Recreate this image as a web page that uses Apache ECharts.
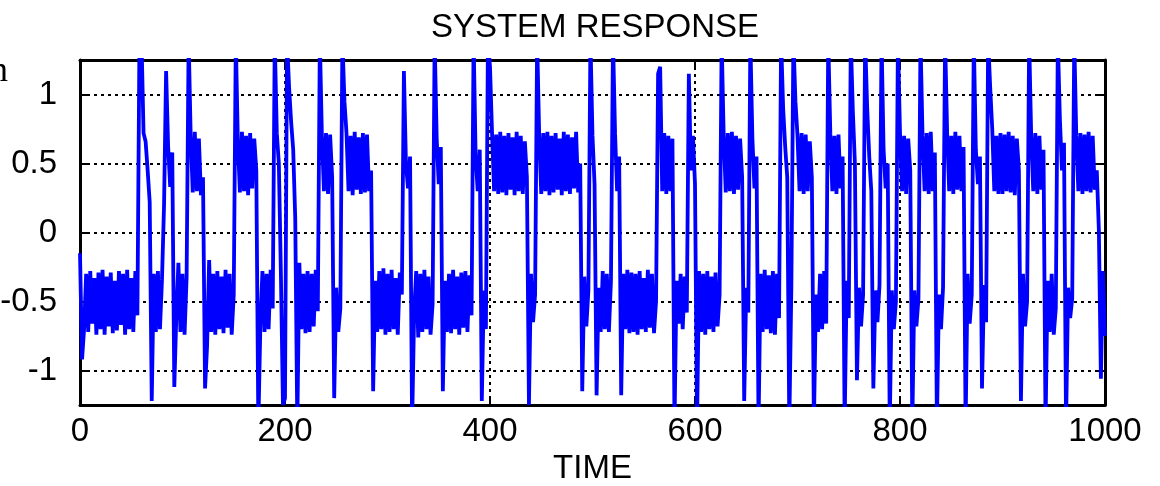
<!DOCTYPE html>
<html>
<head>
<meta charset="utf-8">
<title>System response</title>
<script src="https://cdn.jsdelivr.net/npm/echarts@6/dist/echarts.min.js"></script>
<style>
    html, body { margin: 0; padding: 0; background: #fff; }
    #chart { width: 1160px; height: 486px; }
</style>
</head>
<body>
<!-- system response chart container -->
<div id="chart"></div>
<script>
// samples are taken every 2 time units, 0..1000
const timeStep = 2
const xTicks = [0, 200, 400, 600, 800, 1000]
const yTicks = [-1, -0.5, 0, 0.5, 1]

// response, t = 0..198
const resp0 = [
    -0.15, -0.92, -0.70, -0.30, -0.72, -0.28, -0.66, -0.33, -0.74, -0.29,
    -0.70, -0.27, -0.74, -0.32, -0.68, -0.29, -0.73, -0.35, -0.71, -0.28,
    -0.67, -0.30, -0.74, -0.27, -0.70, -0.33, -0.72, -0.28, -0.60, 1.40,
    1.40, 0.72, 0.66, 0.45, 0.22, -1.22, -0.30, -0.72, -0.28, -0.70,
    -0.34, 0.20, 1.17, 0.62, 0.33, 0.58, -1.12, -0.60, -0.22, -0.72,
    -0.30, -0.74, -0.33, 1.40, 0.70, 0.29, 0.73, 0.30, 0.68, 0.27,
    0.40, -1.13, -0.82, -0.20, -0.72, -0.30, -0.74, -0.28, -0.70, -0.32,
    -0.73, -0.27, -0.69, -0.30, -0.74, -0.45, 1.40, 0.66, 0.29, 0.73,
    0.30, 0.70, 0.27, 0.72, 0.32, 0.68, 0.45, -1.40, -0.66, -0.28,
    -0.72, -0.30, -0.70, -0.27, -0.55, 1.40, 0.72, 0.50, -0.30, -1.25
]
// t = 200..398
const resp1 = [
    -1.20, 1.40, 1.05, 0.80, 0.60, 0.10, -1.40, -0.22, -0.70, -0.30,
    -0.73, -0.28, -0.72, -0.30, -0.68, -0.27, -0.57, 1.40, 0.70, 0.30,
    0.72, 0.28, 0.71, 0.40, -1.20, -0.40, -0.72, -0.55, 1.40, 0.95,
    0.72, 0.30, 0.70, 0.27, 0.73, 0.31, 0.69, 0.28, 0.72, 0.29,
    0.71, 0.30, 0.45, -1.15, -0.35, -0.72, -0.28, -0.70, -0.26, -0.74,
    -0.30, -0.72, -0.27, -0.70, -0.33, -0.74, -0.29, -0.45, 1.17, 0.50,
    0.32, 0.55, -1.40, -0.58, -0.28, -0.76, -0.30, -0.72, -0.27, -0.70,
    -0.32, -0.74, -0.52, 1.40, 0.68, 0.35, 0.62, -1.15, -0.35, -0.72,
    -0.30, -0.73, -0.27, -0.70, -0.32, -0.74, -0.29, -0.69, -0.28, -0.72,
    -0.31, -0.60, 1.40, 0.55, 0.30, 0.60, -1.22, -0.42, -0.70, 1.40
]
// t = 400..598
const resp2 = [
    1.20, 0.72, 0.30, 0.71, 0.28, 0.73, 0.29, 0.70, 0.27, 0.72,
    0.31, 0.69, 0.27, 0.73, 0.30, 0.70, 0.28, 0.66, 0.40, -1.25,
    -0.30, -0.65, -0.45, 1.40, 0.70, 0.28, 0.72, 0.30, 0.73, 0.27,
    0.70, 0.29, 0.72, 0.31, 0.68, 0.27, 0.73, 0.30, 0.71, 0.28,
    0.69, 0.32, 0.73, 0.29, 0.50, -1.15, -0.32, -0.68, -0.42, 1.40,
    0.70, 0.35, -1.18, -0.40, -0.72, -0.28, -0.70, -0.30, -0.72, -0.35,
    1.40, 0.72, 0.30, 0.55, -1.18, -0.30, -0.70, -0.27, -0.73, -0.29,
    -0.72, -0.30, -0.74, -0.28, -0.70, -0.33, -0.72, -0.27, -0.69, -0.30,
    -0.73, -0.50, 1.15, 1.20, 0.30, 0.72, 0.28, 0.70, 0.30, 0.68,
    -1.40, -0.35, -0.66, -0.30, -0.70, -0.32, -0.58, 1.15, 0.45, 0.70
]
// t = 600..798
const resp3 = [
    0.35, -1.40, -0.28, -0.72, -0.30, -0.74, -0.28, -0.70, -0.32, -0.72,
    -0.29, -0.68, -0.45, 1.40, 0.70, 0.29, 0.72, 0.30, 0.73, 0.28,
    0.70, 0.31, 0.68, 0.40, -1.22, -0.40, -0.58, 1.40, 0.68, 0.32,
    0.55, -1.40, -0.30, -0.72, -0.27, -0.70, -0.31, -0.73, -0.28, -0.74,
    -0.30, -0.62, 1.40, 0.90, 0.62, 0.40, -1.40, -0.40, 1.40, 0.95,
    0.70, 0.30, 0.72, 0.28, 0.71, 0.30, 0.66, 0.40, -1.40, -0.45,
    -0.72, -0.30, -0.70, -0.28, -0.66, 1.40, 0.72, 0.30, 0.70, 0.28,
    0.71, 0.32, 0.55, -1.40, -0.35, -0.62, 1.40, 0.88, 0.50, -1.07,
    -0.40, -0.68, -0.45, 1.40, 0.90, 0.55, 0.30, -1.13, -0.42, -0.65,
    -0.38, 1.40, 0.60, 0.32, 0.50, -1.40, -0.42, -0.70, -0.50, 1.40
]
// t = 800..998
const resp4 = [
    0.72, 0.30, 0.70, 0.28, 0.68, 0.45, -1.40, -0.42, -0.68, -0.48,
    1.40, 0.70, 0.30, 0.72, 0.28, 0.73, 0.30, 0.58, -1.40, -0.45,
    -0.70, -0.40, 1.40, 0.72, 0.30, 0.70, 0.28, 0.73, 0.31, 0.70,
    0.30, 0.62, -1.40, -0.30, -0.66, -0.45, 1.40, 0.60, 0.35, 0.55,
    -1.13, -0.38, -0.65, 1.40, 1.05, 0.75, 0.30, 0.70, 0.28, 0.72,
    0.28, 0.71, 0.30, 0.73, 0.29, 0.70, 0.27, 0.68, 0.45, -1.22,
    -0.30, -0.68, -0.50, 1.40, 0.70, 0.30, 0.72, 0.28, 0.70, 0.31,
    0.60, -1.40, -0.35, -0.72, -0.30, -0.74, -0.55, 1.40, 0.82, 0.45,
    0.65, -1.40, -0.40, -0.62, -0.48, 1.40, 0.70, 0.30, 0.72, 0.28,
    0.71, 0.30, 0.73, 0.29, 0.70, 0.31, 0.45, 0.02, -1.06, -0.28
]
// value at t = 1000
const respEnd = -0.75

// join the pieces into [time, value] pairs
const segments = [resp0, resp1, resp2, resp3, resp4]
const points = []
segments.forEach((seg, s) => {
    seg.forEach((v, i) => points.push([s * 200 + i * timeStep, v]))
})
points.push([1000, respEnd])

const font = 'Liberation Sans, Arial, sans-serif'
const fontSize = 33
const frame = { onZero: false, lineStyle: { color: '#000', width: 3 } }
const ticks = { inside: true, length: 9, lineStyle: { color: '#000', width: 2 } }
const dotted = { show: true, lineStyle: { color: '#000', width: 2, type: [3, 4] } }

const chartDom = document.getElementById('chart')
const myChart = echarts.init(chartDom, null, { renderer: 'canvas' })

const option = {
    animation: false,
    backgroundColor: '#fff',
    title: {
        text: 'SYSTEM RESPONSE',
        left: 590,
        top: 6,
        textAlign: 'center',
        textStyle: { color: '#000', fontFamily: font, fontSize: fontSize, fontWeight: 'normal' }
    },
    graphic: [
        // stray clipped glyph at the top left of the original
        { type: 'text', x: -10, y: 54, style: { text: 'n', font: '36px Liberation Serif', fill: '#000' } }
    ],
    grid: { left: 80, right: 55, top: 60, bottom: 81, outerBoundsMode: 'none' },
    xAxis: [
        {
            type: 'value',
            position: 'bottom',
            min: xTicks[0],
            max: xTicks[xTicks.length - 1],
            interval: 200,
            name: 'TIME',
            nameLocation: 'middle',
            nameGap: 44,
            nameTextStyle: { color: '#000', fontFamily: font, fontSize: fontSize },
            axisLine: frame,
            axisTick: ticks,
            axisLabel: {
                color: '#000', fontFamily: font, fontSize: fontSize, margin: 10,
                formatter: (v) => String(v)
            },
            splitLine: dotted
        },
        {
            type: 'value',
            position: 'top',
            min: xTicks[0],
            max: xTicks[xTicks.length - 1],
            interval: 200,
            axisLine: frame,
            axisTick: ticks,
            axisLabel: { show: false },
            splitLine: { show: false }
        }
    ],
    yAxis: [
        {
            type: 'value',
            position: 'left',
            min: -1.25,
            max: 1.25,
            splitNumber: yTicks.length,
            axisLine: frame,
            axisTick: ticks,
            axisLabel: {
                color: '#000', fontFamily: font, fontSize: fontSize, margin: 23,
                showMinLabel: false, showMaxLabel: false
            },
            splitLine: dotted
        },
        {
            type: 'value',
            position: 'right',
            min: -1.25,
            max: 1.25,
            splitNumber: yTicks.length,
            axisLine: frame,
            axisTick: ticks,
            axisLabel: { show: false },
            splitLine: { show: false }
        }
    ],
    series: [
        {
            type: 'line',
            data: points,
            xAxisIndex: 0,
            yAxisIndex: 0,
            showSymbol: false,
            clip: true,
            lineStyle: { color: '#0000ff', width: 3.8 }
        }
    ]
}

option && myChart.setOption(option)
</script>
</body>
</html>
